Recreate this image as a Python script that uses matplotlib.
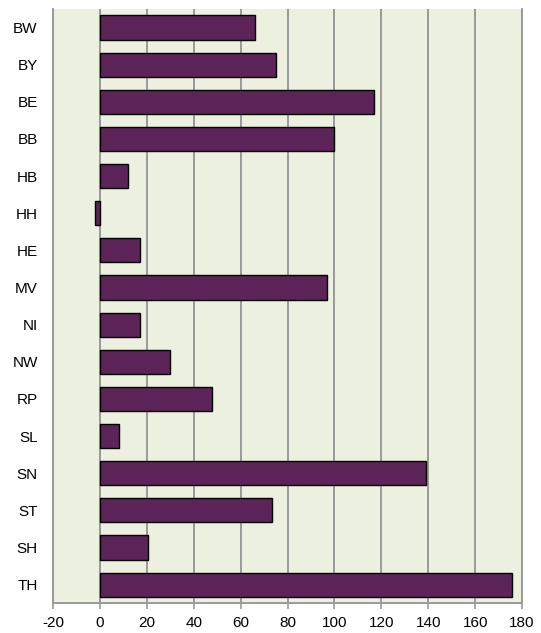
import numpy as np
import matplotlib
matplotlib.use("Agg")
import matplotlib.pyplot as plt

# Bundeslaender und Werte
states = ["BW", "BY", "BE", "BB", "HB", "HH", "HE", "MV",
          "NI", "NW", "RP", "SL", "SN", "ST", "SH", "TH"]
values = [66, 75, 117, 100, 12, -2, 17, 97,
          17, 30, 48, 8, 139, 73.5, 20.5, 175.5]
xticks = list(range(-20, 181, 20))

plt.rcParams["font.family"] = ["Liberation Sans", "DejaVu Sans"]

fig = plt.figure(figsize=(5.41, 6.33), dpi=100)
ax = fig.add_axes([0.098, 0.047, 0.867, 0.939])
ax.set_facecolor("#ECF0DF")

y = np.arange(len(states))
ax.barh(y, values, height=0.65, color="#5C2459", edgecolor="black",
        linewidth=1.0, zorder=3)

ax.set_xlim(-20, 180)
ax.set_ylim(len(states) - 0.5, -0.5)
ax.set_xticks(xticks)
ax.set_xticklabels([str(t) for t in xticks], fontsize=11)
ax.set_yticks(y)
ax.set_yticklabels(states, fontsize=11)

ax.grid(axis="x", color="#999999", linewidth=1.4, zorder=1)
ax.tick_params(axis="y", length=0, pad=11)
ax.tick_params(axis="x", length=4, width=1.2, color="#999999", pad=5)
for name, sp in ax.spines.items():
    sp.set_color("#999999")
    sp.set_linewidth(1.4)
ax.spines["top"].set_visible(False)

fig.savefig("out.png", dpi=100)
